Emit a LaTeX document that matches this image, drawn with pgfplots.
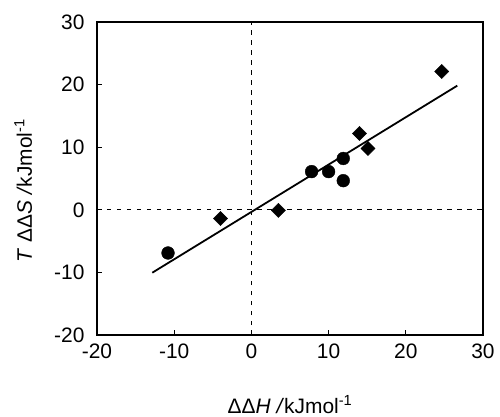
\documentclass[border=0pt]{standalone}
\usepackage{fontspec}
\setmainfont{Liberation Sans}
\usepackage{pgfplots}
\pgfplotsset{compat=1.18}

\begin{document}
\begin{tikzpicture}
\begin{axis}[
    scale only axis,
    width=386bp, height=313bp,
    xmin=-20, xmax=30,
    ymin=-20, ymax=30,
    xtick={-20,-10,...,30},
    ytick={-20,-10,...,30},
    tick pos=left,
    tick align=inside,
    major tick length=5bp,
    tick style={black, line width=1bp},
    axis line style={line width=1.8bp},
    /pgf/number format/assume math mode=true,
    ticklabel style={font=\fontsize{21}{25}\selectfont},
    xticklabel style={yshift=-5bp},
    yticklabel style={xshift=-9bp},
    label style={font=\fontsize{21}{25}\selectfont},
    xlabel={ΔΔ\textit{H /}kJmol\textsuperscript{-1}},
    ylabel={\textit{T} ΔΔ\textit{S /}kJmol\textsuperscript{-1}},
    xlabel style={at={([yshift=-78bp]axis description cs:0.5,0)}, anchor=base},
    ylabel style={at={([xshift=-65bp,yshift=-12bp]axis description cs:0,0.5)}, anchor=base},
]

% zero lines
\addplot[black, line width=0.9bp, dash pattern=on 4.5bp off 5.5bp] coordinates {(0,-20) (0,30)};
\addplot[black, line width=0.9bp, dash pattern=on 4.5bp off 5.5bp] coordinates {(-20,0) (30,0)};

% fit line
\addplot[black, line width=1.8bp] coordinates {(-12.84,-10.05) (26.67,19.83)};

% circles
\addplot[only marks, mark=*, mark size=6.4bp, black] coordinates {
    (-10.8,-6.9) (7.8,6.1) (10.0,6.1) (11.9,8.2) (11.9,4.65)
};

% diamonds
\addplot[only marks, mark=square*, mark size=5bp, mark options={rotate=45}, black] coordinates {
    (-4.0,-1.4) (3.5,-0.1) (14.0,12.2) (15.1,9.8) (24.65,22.1)
};

\end{axis}
\path (-97bp,-82bp) rectangle (403bp,335bp);
\end{tikzpicture}
\end{document}
